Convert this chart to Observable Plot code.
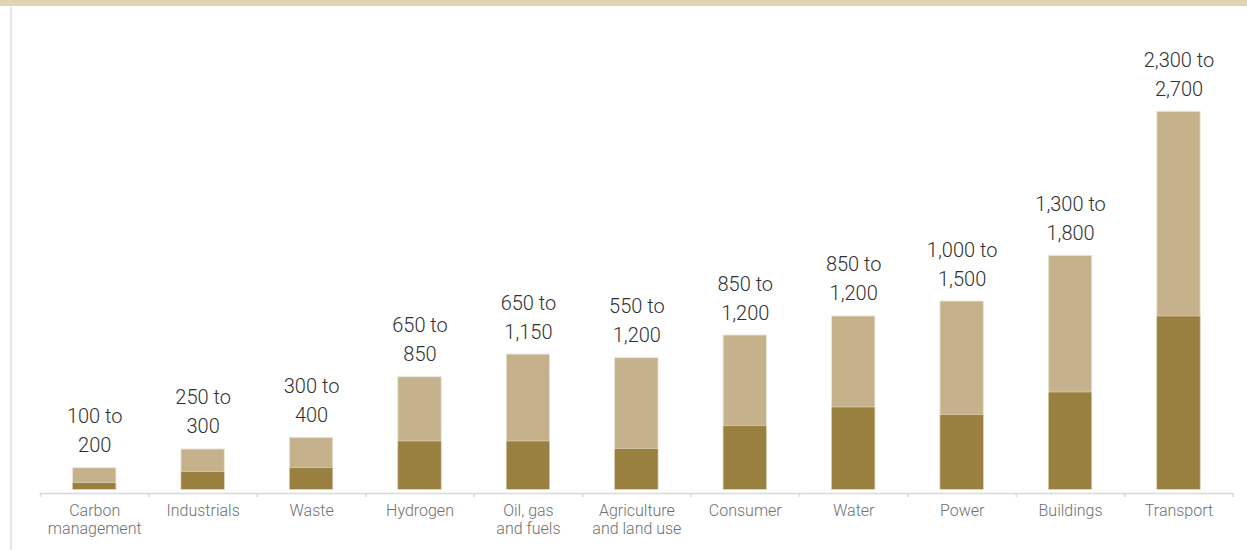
<!DOCTYPE html>
<html>
<head>
<meta charset="utf-8">
<script src="https://cdn.jsdelivr.net/npm/d3@7"></script>
<script src="https://cdn.jsdelivr.net/npm/@observablehq/plot@0.6"></script>
<style>
  html, body { margin: 0; padding: 0; background: #fff; width: 1247px; height: 550px; overflow: hidden; }
  #wrap { position: relative; width: 1247px; height: 550px; }
  #band { position: absolute; left: 0; top: 0; width: 1247px; height: 6px; background: #e0d4b3; z-index: 2; }
  #vline { position: absolute; left: 10px; top: 7px; width: 2px; bottom: 0; background: #e6e6e6; z-index: 2; }
  #chart { position: absolute; left: 0; top: 0; }
  #chart svg { font-family: Roboto, "Noto Sans", sans-serif; }
</style>
</head>
<body>
<div id="wrap">
  <div id="band"></div>
  <div id="vline"></div>
  <div id="chart"></div>
</div>
<script>
const categories = ["Carbon\nmanagement", "Industrials", "Waste", "Hydrogen", "Oil, gas\nand fuels", "Agriculture\nand land use", "Consumer", "Water", "Power", "Buildings", "Transport"];
const rangeLabels = ["100 to\n200", "250 to\n300", "300 to\n400", "650 to\n850", "650 to\n1,150", "550 to\n1,200", "850 to\n1,200", "850 to\n1,200", "1,000 to\n1,500", "1,300 to\n1,800", "2,300 to\n2,700"];
const lowerValues = [47, 126, 154, 345, 345, 290, 454, 588, 533, 695, 1238];
const totalValues = [154, 288, 371, 804, 966, 940, 1102, 1238, 1345, 1671, 2700];

const rows = categories.map((c, i) => ({category: c, lower: lowerValues[i], total: totalValues[i], label: rangeLabels[i]}));

const W = 1247, H = 550;
const marginLeft = 40, marginRight = 14.3;
const step = (W - marginLeft - marginRight) / categories.length;

const plot = Plot.plot({
  width: W,
  height: H,
  marginLeft,
  marginRight,
  marginTop: 13.3,
  marginBottom: 60.7,
  style: {fontFamily: "Roboto, 'Noto Sans', sans-serif", background: "transparent"},
  x: {domain: categories, paddingInner: 0.6, paddingOuter: 0.3, round: false, axis: null},
  y: {domain: [0, 3400], axis: null},
  marks: [
    Plot.barY(rows, {x: "category", y: "total", fill: "#c5b28c", stroke: "#ece5d6", strokeWidth: 0.8}),
    Plot.barY(rows, {x: "category", y: "lower", fill: "#9a8040", stroke: "#e3d9c4", strokeWidth: 0.6}),
    Plot.ruleY([0], {stroke: "#d9d9d9", strokeWidth: 1.5, dy: 3.7}),
    Plot.axisX({tickSize: 4, tickFormat: () => "", label: null, stroke: "#d9d9d9", strokeWidth: 1.5, dx: -step / 2, dy: 3.7}),
    Plot.axisX({ticks: [categories[categories.length - 1]], tickSize: 4, tickFormat: () => "", label: null, stroke: "#d9d9d9", strokeWidth: 1.5, dx: step / 2, dy: 3.7}),
    Plot.axisX({tickSize: 0, tickPadding: 13, label: null, fontSize: 16, lineHeight: 1.15, fill: "#6f6f6f", fontWeight: 300}),
    Plot.text(rows, {x: "category", y: "total", text: "label", lineAnchor: "bottom", dy: -16, fontSize: 20, lineHeight: 1.45, fill: "#303030", fontWeight: 300})
  ]
});
document.getElementById("chart").appendChild(plot);
</script>
</body>
</html>
